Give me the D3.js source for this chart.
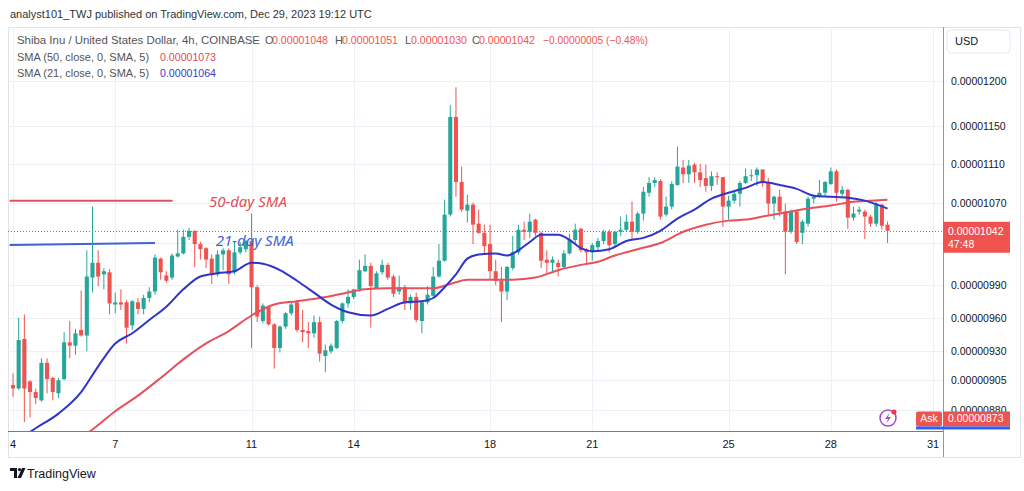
<!DOCTYPE html>
<html>
<head>
<meta charset="utf-8">
<script src="https://cdn.jsdelivr.net/npm/d3@7"></script>
<style>
  body { margin: 0; background: #fff; }
  svg text { font-family: "Liberation Sans", Arial, sans-serif; }
</style>
</head>
<body>
<svg id="chart" width="1024" height="491"></svg>
<script>
// SHIB/USD 4h candles from Dec 4 2023 00:00 UTC, prices in units of 1e-8 USD.
const opens = [901,898,941,904,895,888,920,907,894,906,938,935,949,944,997,1011,1000,1002,972,974,
  974,953,974,968,978,984,1015,999,997,1017,1020,1036,1042,1029,1025,1015,1000,1019,1023,1002,
  1021,1024,1032,988,957,970,954,933,952,964,974,949,948,946,956,926,930,933,957,973,
  979,986,1003,1008,987,1002,1009,998,984,988,973,979,957,974,980,998,1013,1058,1160,1091,
  1062,1068,1049,1040,1029,1003,994,984,1006,1021,1043,1041,1053,1040,1014,1011,1011,1007,1020,1033,
  1044,1024,1021,1026,1032,1041,1029,1041,1043,1051,1041,1059,1080,1090,1092,1058,1066,1088,1106,1099,
  1109,1101,1095,1087,1097,1096,1066,1072,1079,1090,1097,1098,1104,1091,1069,1076,1061,1041,1061,1040,
  1049,1074,1076,1080,1089,1102,1079,1083,1055,1061,1061,1056,1049,1068,1048];
const highs = [911,960,963,905,898,924,924,908,907,947,957,950,985,1023,1066,1023,1006,1005,983,986,
  976,976,978,981,988,1019,1016,1003,1020,1043,1043,1045,1042,1031,1026,1019,1023,1025,1025,1031,
  1031,1033,1059,990,973,971,955,953,965,974,976,967,956,962,961,936,937,958,974,986,
  986,1014,1019,1011,1003,1014,1011,1000,999,990,981,983,976,989,1007,1029,1073,1173,1193,1107,
  1078,1070,1063,1048,1048,1014,1007,1008,1037,1048,1051,1059,1054,1041,1023,1017,1014,1023,1039,1049,
  1045,1025,1030,1035,1043,1043,1042,1056,1058,1071,1061,1086,1096,1096,1094,1076,1092,1128,1114,1114,
  1111,1110,1109,1102,1101,1096,1077,1083,1092,1105,1104,1106,1104,1095,1077,1083,1069,1063,1062,1053,
  1076,1078,1093,1092,1106,1104,1087,1084,1066,1066,1063,1058,1071,1069,1051];
const lows = [891,897,870,874,885,887,894,888,890,905,924,927,943,930,983,989,986,963,964,967,
  937,949,963,963,974,981,995,992,995,1016,1019,1033,1007,1014,1006,991,998,1004,991,1000,
  1019,1021,933,956,955,953,915,929,950,962,947,938,933,942,921,912,928,932,955,969,
  977,984,1002,951,986,1000,995,979,981,967,967,956,946,972,979,997,1012,1056,1076,1061,
  1050,1029,1039,1020,995,990,956,976,1004,1019,1033,1035,1037,1006,1000,1003,998,1006,1019,1030,
  1021,1010,1013,1022,1029,1021,1027,1037,1041,1033,1039,1052,1076,1086,1053,1056,1063,1087,1090,1090,
  1090,1086,1081,1082,1088,1046,1053,1069,1066,1089,1092,1087,1086,1058,1053,1056,1000,1039,1029,1029,
  1046,1069,1075,1076,1088,1071,1076,1044,1052,1058,1034,1046,1046,1043,1030];
const closes = [898,940,898,895,890,920,906,895,905,938,935,946,944,998,1011,998,1003,973,974,972,
  951,975,968,978,984,1016,1002,994,1018,1020,1036,1042,1029,1024,1014,1000,1019,1023,1000,1021,
  1026,1032,988,961,971,954,933,952,964,972,949,947,946,956,928,931,935,957,973,979,
  986,1004,1008,989,1001,1009,997,982,988,973,979,958,974,981,998,1013,1058,1160,1091,1063,
  1068,1048,1040,1027,1003,994,984,1007,1021,1043,1041,1051,1040,1013,1011,1014,1007,1020,1033,1043,
  1023,1021,1028,1032,1041,1028,1041,1043,1051,1041,1059,1081,1090,1093,1056,1066,1089,1107,1099,1108,
  1101,1093,1087,1097,1096,1066,1072,1079,1090,1097,1098,1104,1091,1069,1076,1061,1041,1061,1031,1051,
  1074,1076,1080,1091,1102,1080,1083,1055,1059,1063,1056,1049,1069,1047,1042];

// Moving averages (candle index -> value).
const sma21Idx = [0,4,8,12,15,18,21,24,27,30,33,36,39,42,44,47,50,53,56,59,63,66,69,72,74,76,78,80,82,85,
  87,89,91,93,96,98,100,102,105,108,111,114,117,120,123,126,129,132,135,138,141,144,147,150,154];
const sma21Vals = [853,865,877,895,917,937,946,958,970,986,998,1001,1003,1011,1010,1004,994,983,972,965,
  962,968,974,975,978,988,1000,1015,1019,1020,1018,1023,1031,1038,1038,1033,1025,1022,1024,1032,
  1035,1042,1054,1063,1074,1080,1085,1091,1088,1084,1077,1076,1075,1072,1064];
const sma50Idx = [8,12,14,18,22,26,30,34,38,42,46,50,54,58,62,66,70,74,77,80,84,88,92,96,100,103,106,110,
  114,118,122,126,129,132,136,140,144,148,151,154];
const sma50Vals = [848,858,864,879,892,907,923,937,948,962,972,975,978,982,986,987,987,987,991,995,995,995,
  997,1004,1009,1012,1018,1024,1030,1041,1048,1052,1053,1056,1060,1064,1067,1071,1072,1073];

const priceTicks = [1200,1150,1110,1070,1030,990,960,930,905,880];
const dayTicks = [4,7,11,14,18,21,25,28,31];

const lastPrice = 1042;
const askPrice = 873;
const countdown = "47:48";
const lastChange = "\u22120.00000005 (\u22120.48%)";

const svg = d3.select("#chart");
const plot = { left: 8, right: 943, top: 27, bottom: 431 };
const H4 = 4 * 3600 * 1000;
const t0 = Date.UTC(2023, 11, 4);

const x = d3.scaleUtc()
  .domain([new Date(t0), new Date(Date.UTC(2023, 11, 31))])
  .range([13, 933]);
const y = d3.scaleLog().domain([880, 1200]).range([410, 81]);
const xi = (i) => x(new Date(t0 + i * H4));
const fmt = (v) => (v * 1e-8).toFixed(8);

const UP = "#26a69a", DOWN = "#ef5350";
const RED_SMA = "#e8505c", BLUE_SMA = "#2f34cc";

svg.append("defs").append("clipPath").attr("id", "plotClip")
  .append("rect")
  .attr("x", plot.left).attr("y", plot.top)
  .attr("width", plot.right - plot.left).attr("height", plot.bottom - plot.top);

// Header line above the chart.
svg.append("text")
  .attr("x", 10).attr("y", 18)
  .style("font-size", "11px").style("fill", "#333")
  .text("analyst101_TWJ published on TradingView.com, Dec 29, 2023 19:12 UTC");

// Chart frame.
svg.append("rect")
  .attr("x", 8.5).attr("y", 27.5).attr("width", 1012).attr("height", 430)
  .attr("fill", "none").attr("stroke", "#e0e3eb");

// Grid lines.
const grid = svg.append("g");
grid.selectAll("line.h").data(priceTicks).enter().append("line")
  .attr("class", "h")
  .attr("x1", plot.left).attr("x2", plot.right)
  .attr("y1", (d) => Math.round(y(d)) + 0.5).attr("y2", (d) => Math.round(y(d)) + 0.5)
  .attr("stroke", "#edf0f6");
grid.selectAll("line.v").data(dayTicks).enter().append("line")
  .attr("class", "v")
  .attr("x1", (d) => Math.round(x(new Date(Date.UTC(2023, 11, d)))) + 0.5)
  .attr("x2", (d) => Math.round(x(new Date(Date.UTC(2023, 11, d)))) + 0.5)
  .attr("y1", plot.top).attr("y2", plot.bottom)
  .attr("stroke", "#edf0f6");

const inner = svg.append("g").attr("clip-path", "url(#plotClip)");

// Author annotations drawn on the chart.
const annotations = [
  { text: "50-day SMA", color: "#e0505a", from: -0.6, to: 28.1, p1: 1072, p2: 1072, ti: 34.5, tp: 1071 },
  { text: "21-day SMA", color: "#3f62d4", from: -0.6, to: 25.0, p1: 1028, p2: 1030, ti: 35.7, tp: 1032 },
];
inner.selectAll("line.anno").data(annotations).enter().append("line")
  .attr("class", "anno")
  .attr("x1", (d) => xi(d.from)).attr("x2", (d) => xi(d.to))
  .attr("y1", (d) => y(d.p1)).attr("y2", (d) => y(d.p2))
  .attr("stroke", (d) => d.color).attr("stroke-width", 2);

// Current price dotted line.
inner.append("line")
  .attr("x1", plot.left).attr("x2", plot.right)
  .attr("y1", Math.round(y(lastPrice)) + 0.5).attr("y2", Math.round(y(lastPrice)) + 0.5)
  .attr("stroke", DOWN).attr("stroke-dasharray", "1,2");

// Candles.
const candles = opens.map((o, i) => ({ i, o, h: highs[i], l: lows[i], c: closes[i] }));
const bodyW = (xi(1) - xi(0)) * 0.72;
const cg = inner.selectAll("g.candle").data(candles).enter().append("g").attr("class", "candle");
cg.append("line")
  .attr("x1", (d) => xi(d.i)).attr("x2", (d) => xi(d.i))
  .attr("y1", (d) => y(d.h)).attr("y2", (d) => y(d.l))
  .attr("stroke", (d) => (d.c >= d.o ? UP : DOWN)).attr("stroke-width", 1);
cg.append("rect")
  .attr("x", (d) => xi(d.i) - bodyW / 2)
  .attr("width", bodyW)
  .attr("y", (d) => y(Math.max(d.o, d.c)))
  .attr("height", (d) => Math.max(1, Math.abs(y(d.o) - y(d.c))))
  .attr("fill", (d) => (d.c >= d.o ? UP : DOWN));

// Moving average lines.
const smaLine = d3.line().x((d) => xi(d[0])).y((d) => y(d[1])).curve(d3.curveMonotoneX);
inner.append("path")
  .datum(sma50Idx.map((k, j) => [k, sma50Vals[j]]))
  .attr("d", smaLine).attr("fill", "none").attr("stroke", RED_SMA).attr("stroke-width", 2);
inner.append("path")
  .datum(sma21Idx.map((k, j) => [k, sma21Vals[j]]))
  .attr("d", smaLine).attr("fill", "none").attr("stroke", BLUE_SMA).attr("stroke-width", 2);

inner.selectAll("text.anno").data(annotations).enter().append("text")
  .attr("class", "anno")
  .attr("x", (d) => xi(d.ti)).attr("y", (d) => y(d.tp))
  .attr("dy", "0.35em")
  .style("font-family", "'Noto Sans', sans-serif")
  .style("font-style", "italic").style("font-size", "15px")
  .style("fill", (d) => d.color)
  .text((d) => d.text);

// Legend.
const legend = svg.append("g").style("font-size", "11px");
const legendRows = [
  { yb: 44, parts: [
    { x: 17, t: "Shiba Inu / United States Dollar, 4h, COINBASE", c: "#555", w: 243 },
    { x: 265, t: "O", c: "#555" }, { x: 272, t: fmt(opens[154]), c: DOWN, w: 56 },
    { x: 335, t: "H", c: "#555" }, { x: 342, t: fmt(highs[154]), c: DOWN, w: 56 },
    { x: 405, t: "L", c: "#555" }, { x: 411, t: fmt(lows[154]), c: DOWN, w: 56 },
    { x: 472, t: "C", c: "#555" }, { x: 479, t: fmt(closes[154]), c: DOWN, w: 56 },
    { x: 543, t: lastChange, c: DOWN, w: 105 },
  ] },
  { yb: 61, parts: [
    { x: 17, t: "SMA (50, close, 0, SMA, 5)", c: "#555" },
    { x: 160, t: fmt(sma50Vals[sma50Vals.length - 1]), c: "#e04a56", w: 56 },
  ] },
  { yb: 77, parts: [
    { x: 17, t: "SMA (21, close, 0, SMA, 5)", c: "#555" },
    { x: 160, t: fmt(sma21Vals[sma21Vals.length - 1]), c: "#3a3ac4", w: 56 },
  ] },
];
legendRows.forEach((row) => {
  legend.append("g").selectAll("text").data(row.parts).enter().append("text")
    .attr("x", (d) => d.x).attr("y", row.yb)
    .attr("textLength", (d) => d.w || null)
    .attr("lengthAdjust", "spacingAndGlyphs")
    .style("fill", (d) => d.c)
    .text((d) => d.t);
});

// Axes lines.
svg.append("line")
  .attr("x1", plot.left).attr("x2", plot.right)
  .attr("y1", plot.bottom + 0.5).attr("y2", plot.bottom + 0.5)
  .attr("stroke", "#787b86");
svg.append("line")
  .attr("x1", plot.right + 0.5).attr("x2", plot.right + 0.5)
  .attr("y1", plot.top).attr("y2", 457)
  .attr("stroke", "#9598a1");

// Date labels.
svg.append("g").selectAll("text").data(dayTicks).enter().append("text")
  .attr("x", (d) => x(new Date(Date.UTC(2023, 11, d))))
  .attr("y", 448)
  .attr("text-anchor", "middle")
  .style("font-size", "11px").style("fill", "#131722")
  .text((d) => d);

// Price labels (the one under the last-price badge stays hidden, as on the chart).
const ly = y(lastPrice);
svg.append("g").selectAll("text")
  .data(priceTicks.filter((d) => Math.abs(y(d) - ly) > 16))
  .enter().append("text")
  .attr("x", 951).attr("y", (d) => y(d) + 4)
  .style("font-size", "10.5px").style("fill", "#131722")
  .text((d) => fmt(d));

// USD badge.
svg.append("rect")
  .attr("x", 947).attr("y", 30).attr("width", 63).attr("height", 23).attr("rx", 4)
  .attr("fill", "#fff").attr("stroke", "#e6e8ee");
svg.append("text").attr("x", 955).attr("y", 45)
  .style("font-size", "11px").style("fill", "#131722").text("USD");

// Last price badge.
svg.append("rect")
  .attr("x", plot.right).attr("y", ly - 9).attr("width", 67).attr("height", 31)
  .attr("fill", DOWN);
svg.append("text").attr("x", 948).attr("y", ly + 4)
  .style("font-size", "10.5px").style("fill", "#fff").text(fmt(lastPrice));
svg.append("text").attr("x", 948).attr("y", ly + 17)
  .style("font-size", "10.5px").style("fill", "#fff").text(countdown);

// Ask badge.
const ay = y(askPrice);
svg.append("rect")
  .attr("x", 916).attr("y", ay - 7).attr("width", 26).attr("height", 15).attr("rx", 2)
  .attr("fill", DOWN);
svg.append("text").attr("x", 929).attr("y", ay + 4).attr("text-anchor", "middle")
  .style("font-size", "10.5px").style("fill", "#fff").text("Ask");
svg.append("rect")
  .attr("x", plot.right).attr("y", ay - 7).attr("width", 67).attr("height", 15)
  .attr("fill", DOWN);
svg.append("text").attr("x", 948).attr("y", ay + 4)
  .style("font-size", "10.5px").style("fill", "#fff").text(fmt(askPrice));
svg.append("rect")
  .attr("x", 916).attr("y", ay + 8).attr("width", 94).attr("height", 3)
  .attr("fill", "#2962ff");

// Lightning icon.
const icon = svg.append("g").attr("transform", "translate(888,418)");
icon.append("circle").attr("r", 8).attr("fill", "#fff")
  .attr("stroke", "#a24bd0").attr("stroke-width", 1.5);
icon.append("path").attr("d", "M1.5,-5 L-3,1 L0,1 L-1.5,5 L3,-1 L0,-1 Z")
  .attr("fill", "#a24bd0");
icon.append("circle").attr("cx", 6).attr("cy", -6).attr("r", 2.5).attr("fill", "#f23645");

// TradingView logo.
const logo = svg.append("g").attr("fill", "#131722");
logo.append("path").attr("d", "M10,468 h7 v10 h-3 v-7 h-4 z");
logo.append("circle").attr("cx", 19.5).attr("cy", 469.6).attr("r", 1.6);
logo.append("path").attr("d", "M22,468 h3.5 l-4.5,10 h-3.5 z");
svg.append("text").attr("x", 27).attr("y", 478)
  .style("font-size", "12.5px").style("fill", "#131722").text("TradingView");
</script>
</body>
</html>
